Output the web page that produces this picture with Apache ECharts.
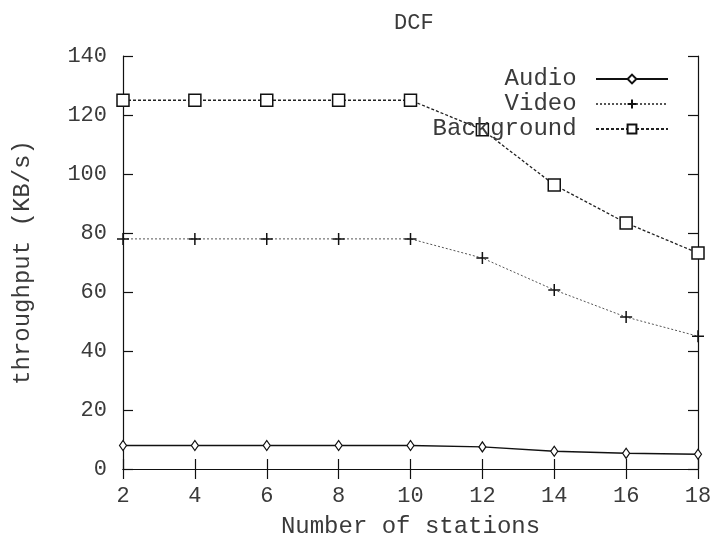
<!DOCTYPE html>
<html>
<head>
<meta charset="utf-8">
<title>DCF</title>
<script src="https://cdn.jsdelivr.net/npm/echarts@6/dist/echarts.min.js"></script>
<style>
  html, body { margin: 0; padding: 0; background: #fff; }
  #chart { width: 720px; height: 541px; }
</style>
</head>
<body>
<div id="chart"></div>
<script>
// Number of stations on the x axis
const stations = [2, 4, 6, 8, 10, 12, 14, 16, 18];

// Throughput per traffic class (KB/s)
const audio = [8, 8, 8, 8, 8, 7.5, 6, 5.3, 5];
const video = [78, 78, 78, 78, 78, 71.5, 60.7, 51.5, 45];
const background = [125, 125, 125, 125, 125, 115, 96.3, 83.4, 73.2];

const FONT = 'Liberation Mono';
const TEXT = '#3a3a3a';

const pair = (xs, ys) => xs.map((x, i) => [x, ys[i]]);

const chart = echarts.init(document.getElementById('chart'), null, { renderer: 'canvas' });

const baseAxis = {
  axisLine: { show: true, lineStyle: { color: '#111', width: 1.2 } },
  axisTick: { show: true, inside: true, length: 10, lineStyle: { color: '#111', width: 1.2 } },
  splitLine: { show: false }
};

chart.setOption({
  animation: false,
  backgroundColor: '#fff',
  title: {
    text: 'DCF',
    left: 389,
    top: 7,
    textStyle: { fontFamily: FONT, fontSize: 22, fontWeight: 'normal', color: TEXT }
  },
  grid: { left: 123, right: 22, top: 56, bottom: 72, containLabel: false, outerBoundsMode: 'none' },
  legend: {
    orient: 'vertical',
    align: 'right',
    right: 46,
    top: 62,
    itemWidth: 72,
    itemHeight: 11,
    itemGap: 1,
    formatter: name => name.padStart(10, '\u00a0') + '\u00a0',
    textStyle: { fontFamily: FONT, fontSize: 24, color: TEXT, lineHeight: 24 },
    data: ['Audio', 'Video', 'Background']
  },
  xAxis: [
    Object.assign({}, baseAxis, {
      type: 'value', min: 2, max: 18, interval: 2, position: 'bottom',
      name: 'Number of stations', nameLocation: 'middle', nameGap: 46,
      nameTextStyle: { fontFamily: FONT, fontSize: 24, color: TEXT },
      axisLabel: { fontFamily: FONT, fontSize: 22, color: TEXT, margin: 16 }
    }),
    Object.assign({}, baseAxis, {
      type: 'value', min: 2, max: 18, interval: 2, position: 'top',
      axisLabel: { show: false }
    })
  ],
  yAxis: [
    Object.assign({}, baseAxis, {
      type: 'value', min: 0, max: 140, interval: 20, position: 'left',
      name: 'throughput (KB/s)', nameLocation: 'middle', nameGap: 88,
      nameTextStyle: { fontFamily: FONT, fontSize: 24, color: TEXT },
      axisLabel: { fontFamily: FONT, fontSize: 22, color: TEXT, margin: 16 }
    }),
    Object.assign({}, baseAxis, {
      type: 'value', min: 0, max: 140, interval: 20, position: 'right',
      axisLabel: { show: false }
    })
  ],
  series: [
    {
      name: 'Audio',
      type: 'line',
      data: pair(stations, audio),
      symbol: 'diamond',
      symbolSize: [7, 10],
      lineStyle: { color: '#111', width: 1.5, type: 'solid' },
      itemStyle: { color: '#fff', borderColor: '#111', borderWidth: 1.2 },
      z: 3
    },
    {
      name: 'Video',
      type: 'line',
      data: pair(stations, video),
      symbol: 'path://M0,5L10,5M5,0L5,10',
      symbolSize: 12,
      lineStyle: { color: '#555', width: 1, type: [2, 2] },
      itemStyle: { color: '#111', borderColor: '#111', borderWidth: 1.5 },
      z: 2
    },
    {
      name: 'Background',
      type: 'line',
      data: pair(stations, background),
      symbol: 'rect',
      symbolSize: 12,
      lineStyle: { color: '#222', width: 1.3, type: [3, 2] },
      itemStyle: { color: '#fff', borderColor: '#111', borderWidth: 1.5 },
      z: 2
    }
  ]
});
</script>
</body>
</html>
